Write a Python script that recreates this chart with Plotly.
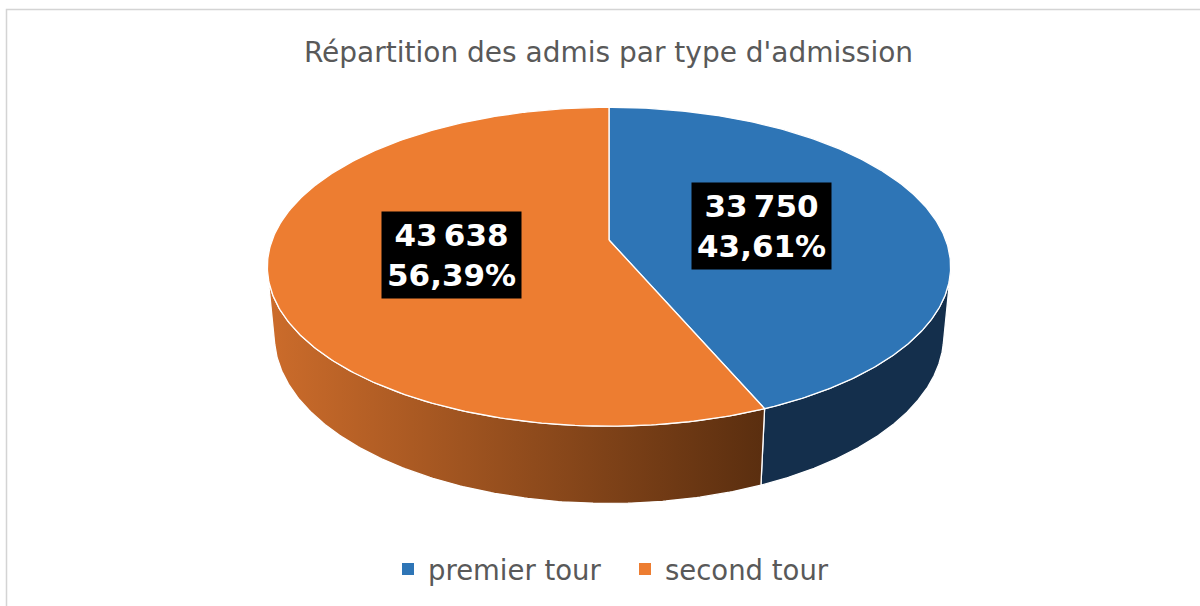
import numpy as np
import plotly.graph_objects as go

# ---- data ----
categories = ["premier tour", "second tour"]
values = [33750, 43638]
title_text = "Répartition des admis par type d'admission"

# ---- style ----
top_colors = ["#2e75b6", "#ed7d31"]
side_colors = [["#142f4c", "#142f4c"], ["#cc6c2b", "#5a2e0f"]]
text_grey = "#595959"
FONT = "DejaVu Sans"

# ---- 3D projection parameters (pixel units) ----
TILT = np.radians(27.4)
DIST = 5.30
FOCAL = 1785.0
THICK = 0.233
W, H = 1200, 606
CX, CY = 609, 240  # screen position of the pie centre (from top-left)
c, s = np.cos(TILT), np.sin(TILT)


def project(phi, r, y):
    X = r * np.sin(phi)
    Z = r * np.cos(phi)
    D = DIST + Z * c - y * s
    up = Z * s + y * c
    return FOCAL * X / D, FOCAL * up / D


total = float(sum(values))
shares = [v / total for v in values]
bounds = np.concatenate([[0.0], np.cumsum(shares)]) * 2 * np.pi

# visible range of the cylinder side
half = np.arccos(1.0 / (DIST * c))
vis_lo, vis_hi = np.pi - half, np.pi + half

fig = go.Figure()

# sides (drawn first)
for i in range(len(values)):
    lo = max(bounds[i], vis_lo)
    hi = min(bounds[i + 1], vis_hi)
    if hi <= lo:
        continue
    ph = np.linspace(lo, hi, 200)
    tx, ty = project(ph, 1.0, 0.0)
    bx, by = project(ph[::-1], 1.0, -THICK)
    xs = np.concatenate([tx, bx, tx[:1]])
    ys = np.concatenate([ty, by, ty[:1]])
    fig.add_trace(go.Scatter(
        x=xs, y=ys, mode="lines", fill="toself",
        line=dict(color="white", width=1.3),
        fillgradient=dict(type="horizontal",
                          colorscale=[[0, side_colors[i][0]], [1, side_colors[i][1]]]),
        hoverinfo="skip", showlegend=False))

# top faces
for i in range(len(values)):
    ph = np.linspace(bounds[i], bounds[i + 1], 300)
    ax, ay = project(ph, 1.0, 0.0)
    xs = np.concatenate([[0.0], ax, [0.0]])
    ys = np.concatenate([[0.0], ay, [0.0]])
    fig.add_trace(go.Scatter(
        x=xs, y=ys, mode="lines", fill="toself",
        fillcolor=top_colors[i], line=dict(color="white", width=1.3),
        hoverinfo="skip", showlegend=False))

# legend entries
for i, cat in enumerate(categories):
    fig.add_trace(go.Scatter(
        x=[None], y=[None], mode="markers", name=cat,
        marker=dict(symbol="square", size=12, color=top_colors[i])))

# data labels
for i, v in enumerate(values):
    mid = (bounds[i] + bounds[i + 1]) / 2
    lx, ly = project(mid, 0.47, 0.0)
    pct = f"{shares[i] * 100:.2f}".replace(".", ",")
    txt = f"{v:,}".replace(",", "\u202f") + "<br>" + pct + "%"
    fig.add_annotation(
        x=lx, y=ly, text=f"<b>{txt}</b>", showarrow=False,
        font=dict(family=FONT, size=31, color="white"),
        bgcolor="black", borderpad=5, align="center")

fig.update_layout(
    width=W, height=H,
    margin=dict(l=0, r=0, t=0, b=0),
    paper_bgcolor="white", plot_bgcolor="white",
    title=dict(text=title_text, x=608.5 / W, xanchor="center",
               y=1 - 52 / H, yanchor="middle",
               font=dict(family=FONT, size=28, color=text_grey)),
    xaxis=dict(range=[-CX, W - CX], visible=False, fixedrange=True),
    yaxis=dict(range=[-(H - CY), CY], visible=False, fixedrange=True),
    showlegend=True,
    legend=dict(orientation="h", x=388 / W, xanchor="left",
                y=1 - 569 / H, yanchor="middle",
                font=dict(family=FONT, size=27.5, color=text_grey),
                itemwidth=30, entrywidth=192, entrywidthmode="pixels",
                bgcolor="rgba(0,0,0,0)"),
    shapes=[dict(type="rect", xref="paper", yref="paper",
                 x0=6.5 / W, x1=1.02, y0=-0.02, y1=1 - 9.5 / H,
                 line=dict(color="#d4d4d4", width=1.5), layer="below")],
)

fig.write_html("out.html", config={"displayModeBar": False},
               post_script="document.body.style.margin='0';")
